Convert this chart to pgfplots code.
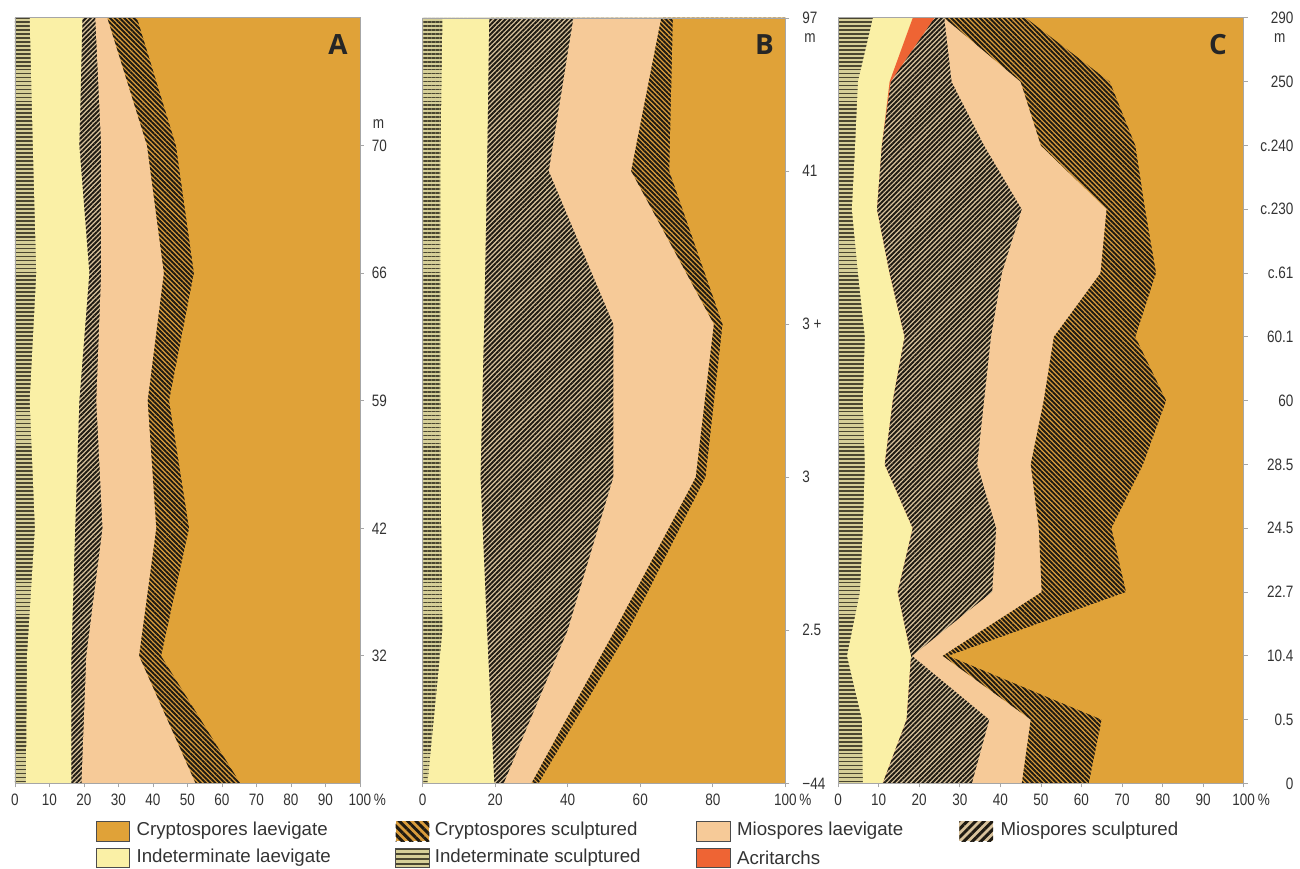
\documentclass[border=0pt]{standalone}
\usepackage{fontspec}
\setmainfont{Liberation Sans}
\newfontfamily\narrowfont[FakeStretch=0.82]{Liberation Sans}
\newfontfamily\letterfont{Open Sans}
\usepackage{pgfplots}
\pgfplotsset{compat=1.18}
\usepackage{pgfplotstable}
\usetikzlibrary{patterns.meta}

\definecolor{cryptoL}{HTML}{E0A238}
\definecolor{cryptoBG}{HTML}{D99C3C}
\definecolor{indetL}{HTML}{FAF0A6}
\definecolor{indetBG}{HTML}{D6CF98}
\definecolor{mioL}{HTML}{F6CA98}
\definecolor{mioBG}{HTML}{D8C29C}
\definecolor{acrit}{HTML}{EE6434}
\definecolor{stripe}{HTML}{1E1A12}
\definecolor{olive}{HTML}{4A4630}

% boundaries (cumulative %), one row per sample level (0 = bottom)
\pgfplotstableread{
y b0 b1 b2 b3 b4 b5 b6
0 0 3.2 16.4 19.3 52.4 65.4 100
1 0 3.5 16.4 20.7 36.0 42.4 100
2 0 5.8 17.5 25.4 41.0 50.5 100
3 0 4.3 18.7 23.6 38.5 44.7 100
4 0 6.2 21.6 25.0 43.2 51.9 100
5 0 5.2 18.7 25.0 38.3 46.7 100
6 0 4.3 19.6 23.3 26.8 35.4 100
}\dataA

\pgfplotstableread{
y b0 b1 b2 b3 b4 b5 b6
0 0 1.4 19.8 22.4 30.0 32.0 100
1 0 5.5 17.8 40.0 53.0 56.8 100
2 0 5.0 16.0 52.6 75.3 78.0 100
3 0 4.9 17.0 52.6 80.3 82.7 100
4 0 4.9 17.8 34.8 57.5 68.0 100
5 0 5.5 18.4 41.6 65.8 69.0 100
}\dataB

\pgfplotstableread{
y b0 b1 b2 bA b3 b4 b5 b6
0 0 6.1 11.0 11.0 33.0 45.3 61.8 100
1 0 5.9 16.9 16.9 37.3 47.5 65.0 100
2 0 2.2 18.0 18.0 18.3 25.8 27.2 100
3 0 5.4 14.7 14.7 38.0 50.2 71.0 100
4 0 6.1 18.4 18.4 39.0 49.5 67.4 100
5 0 6.6 11.5 11.5 34.3 47.5 75.2 100
6 0 6.1 13.5 13.5 36.0 50.7 80.9 100
7 0 6.6 16.4 16.4 37.7 53.2 73.3 100
8 0 4.9 12.7 12.7 40.4 64.7 78.4 100
9 0 3.4 9.6 9.6 45.3 66.2 75.7 100
10 0 4.2 10.8 10.8 36.0 50.0 73.3 100
11 0 4.9 12.7 13.0 28.0 45.0 67.0 100
12 0 8.6 18.4 23.8 26.2 26.2 46.3 100
}\dataC

\tikzset{
  hpat/.style={pattern={Lines[angle=0,distance=2pt,line width=0.9pt]}, pattern color=olive},
  nepat/.style={pattern={Lines[angle=45,distance=1.7pt,line width=0.95pt]}, pattern color=stripe},
  nwpat/.style={pattern={Lines[angle=-45,distance=1.7pt,line width=0.95pt]}, pattern color=stripe},
}

% fill from a boundary column to the right edge of the panel (layers overlap, later ones on top)
\newcommand{\layer}[3]{\addplot[#1, draw=none] table[x=#2,y=y]{#3} -- (rel axis cs:1,1) -- (rel axis cs:1,0) -- cycle;}

\pgfplotsset{
  panel/.style={
    scale only axis, height=385pt, xmin=0, xmax=100,
    axis on top, clip=true,
    axis line style={gray!70, line width=0.4pt},
    tick style={gray!70, line width=0.4pt},
    major tick length=2pt, tick align=outside,
    xtick pos=left, ytick pos=right,
    tick label style={font=\narrowfont\fontsize{8.3}{9}\selectfont, text=black!80},
    anchor=south west,
  },
}

\begin{document}
\begin{tikzpicture}
\path (0,0) rectangle (650pt,437pt);

% ---------------- Panel A ----------------
\begin{axis}[panel, width=173.5pt, at={(7.5pt,43pt)}, ymin=0, ymax=6,
  xtick={0,10,...,100}, xticklabels={0,10,20,30,40,50,60,70,80,90,100\rlap{\,\%}},
  ytick={1,2,3,4,5}, yticklabels={32,42,59,66,70},
  yticklabel style={anchor=west, xshift=0.5pt}]
\layer{fill=indetBG}{b0}{\dataA}
\layer{hpat}{b0}{\dataA}
\layer{fill=indetL}{b1}{\dataA}
\layer{fill=mioBG}{b2}{\dataA}
\layer{nepat}{b2}{\dataA}
\layer{fill=mioL}{b3}{\dataA}
\layer{fill=cryptoBG}{b4}{\dataA}
\layer{nwpat}{b4}{\dataA}
\layer{fill=cryptoL}{b5}{\dataA}
\end{axis}

% ---------------- Panel B ----------------
\begin{axis}[panel, width=182.5pt, at={(212.5pt,43pt)}, ymin=0, ymax=5,
  xtick={0,20,...,100}, xticklabels={0,20,40,60,80,100\rlap{\,\%}},
  ytick={0,1,2,3,4,5}, yticklabels={−44,2.5,3,3 +,41,97},
  yticklabel style={anchor=west, xshift=3pt}]
\layer{fill=indetBG}{b0}{\dataB}
\layer{hpat}{b0}{\dataB}
\layer{fill=indetL}{b1}{\dataB}
\layer{fill=mioBG}{b2}{\dataB}
\layer{nepat}{b2}{\dataB}
\layer{fill=mioL}{b3}{\dataB}
\layer{fill=cryptoBG}{b4}{\dataB}
\layer{nwpat}{b4}{\dataB}
\layer{fill=cryptoL}{b5}{\dataB}
\end{axis}

% ---------------- Panel C ----------------
\begin{axis}[panel, width=204pt, at={(421.5pt,43pt)}, ymin=0, ymax=12,
  xtick={0,10,...,100}, xticklabels={0,10,20,30,40,50,60,70,80,90,100\rlap{\,\%}},
  ytick={0,1,...,12}, yticklabels={0,0.5,10.4,22.7,24.5,28.5,60,60.1,c.61,c.230,c.240,250,290},
  yticklabel style={anchor=east, xshift=26.5pt}]
\layer{fill=indetBG}{b0}{\dataC}
\layer{hpat}{b0}{\dataC}
\layer{fill=indetL}{b1}{\dataC}
\layer{fill=acrit}{b2}{\dataC}
\layer{fill=mioBG}{bA}{\dataC}
\layer{nepat}{bA}{\dataC}
\layer{fill=mioL}{b3}{\dataC}
\layer{fill=cryptoBG}{b4}{\dataC}
\layer{nwpat}{b4}{\dataC}
\layer{fill=cryptoL}{b5}{\dataC}
\end{axis}

% extra axis annotations
\begin{scope}[font=\narrowfont\fontsize{8.3}{9}\selectfont, text=black!80]
\node[anchor=west] at (184pt,374.5pt) {m};
\node[anchor=west] at (401pt,418pt) {m};
\node[anchor=east] at (650pt,418pt) {m};
\end{scope}
\begin{scope}[font=\letterfont\bfseries\fontsize{14}{14}\selectfont, text=black!85]
\node at (170pt,414.5pt) {A};
\node at (384.5pt,414.5pt) {B};
\node at (612.5pt,414.5pt) {C};
\end{scope}

% legend
\begin{scope}[font=\fontsize{9.4}{11}\selectfont, text=black!80, sw/.style={draw=black!70, line width=0.5pt}]
\fill[cryptoL] (48.5pt,14pt) rectangle (65pt,24pt);
\draw[sw] (48.5pt,14pt) rectangle (65pt,24pt);
\node[anchor=west, inner sep=0pt] at (68.5pt,19pt) {Cryptospores laevigate};
\fill[cryptoBG] (199pt,14pt) rectangle (216pt,24pt);
\fill[pattern={Lines[angle=-45,distance=3pt,line width=1.5pt]}, pattern color=stripe] (199pt,14pt) rectangle (216pt,24pt);
\node[anchor=west, inner sep=0pt] at (218.5pt,19pt) {Cryptospores sculptured};
\fill[mioL] (350.5pt,14pt) rectangle (367.5pt,24pt);
\draw[sw] (350.5pt,14pt) rectangle (367.5pt,24pt);
\node[anchor=west, inner sep=0pt] at (370.5pt,19pt) {Miospores laevigate};
\fill[mioBG] (482.5pt,14pt) rectangle (499.5pt,24pt);
\fill[pattern={Lines[angle=45,distance=3pt,line width=1.5pt]}, pattern color=stripe] (482.5pt,14pt) rectangle (499.5pt,24pt);
\node[anchor=west, inner sep=0pt] at (503pt,19pt) {Miospores sculptured};
\fill[indetL] (48.5pt,0.5pt) rectangle (65pt,10.5pt);
\draw[sw] (48.5pt,0.5pt) rectangle (65pt,10.5pt);
\node[anchor=west, inner sep=0pt] at (68.5pt,5.5pt) {Indeterminate laevigate};
\fill[indetBG] (199pt,0.5pt) rectangle (216pt,10.5pt);
\fill[pattern={Lines[angle=0,distance=2.5pt,line width=1.1pt]}, pattern color=olive] (199pt,0.5pt) rectangle (216pt,10.5pt);
\draw[sw] (199pt,0.5pt) rectangle (216pt,10.5pt);
\node[anchor=west, inner sep=0pt] at (218.5pt,5.5pt) {Indeterminate sculptured};
\fill[acrit] (350.5pt,0.5pt) rectangle (367.5pt,10.5pt);
\draw[sw] (350.5pt,0.5pt) rectangle (367.5pt,10.5pt);
\node[anchor=west, inner sep=0pt] at (370.5pt,5.5pt) {Acritarchs};
\end{scope}
\end{tikzpicture}
\end{document}
